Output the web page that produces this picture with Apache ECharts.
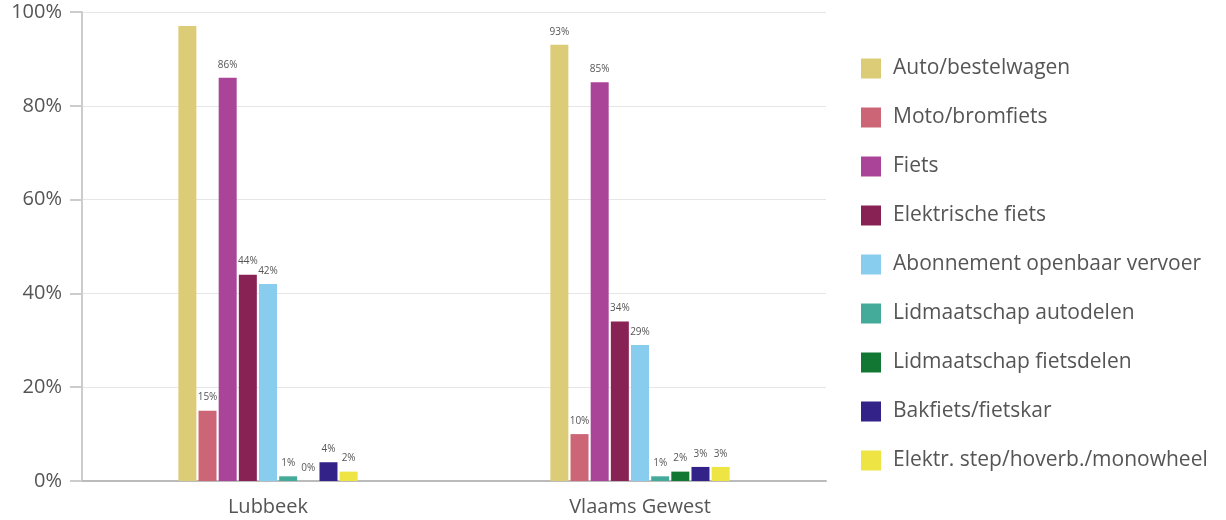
<!DOCTYPE html>
<html><head><meta charset="utf-8">
<script src="https://cdn.jsdelivr.net/npm/echarts@6/dist/echarts.min.js"></script>
<style>html,body{margin:0;padding:0;background:#fff}#c{width:1226px;height:520px}</style>
</head><body><div id="c"></div>
<script>
const categories = ['Lubbeek', 'Vlaams Gewest'];
const seriesNames = ['Auto/bestelwagen','Moto/bromfiets','Fiets','Elektrische fiets','Abonnement openbaar vervoer','Lidmaatschap autodelen','Lidmaatschap fietsdelen','Bakfiets/fietskar','Elektr. step/hoverb./monowheel'];
const lubbeek = [97, 15, 86, 44, 42, 1, 0, 4, 2];
const vlaams = [93, 10, 85, 34, 29, 1, 2, 3, 3];
const colors = ['#ddcc77','#cc6677','#aa4499','#882255','#88ccee','#44aa99','#117733','#332288','#eee444'];
const yTicks = [0, 20, 40, 60, 80, 100];

const FONT = 'Open Sans';
const series = seriesNames.map((n, i) => ({
  name: n, type: 'bar', barWidth: 18, barGap: '12%',
  itemStyle: { color: colors[i] },
  data: [lubbeek[i], vlaams[i]].map((v, j) => (v > 95 ? { value: v, label: { show: false } } : v)),
  label: { show: true, position: 'top', distance: 8, formatter: '{c}%', fontSize: 10, color: '#555', fontFamily: FONT }
}));

const chart = echarts.init(document.getElementById('c'));
chart.setOption({
  animation: false,
  color: colors,
  grid: { left: 82, right: 400, top: 12, bottom: 39, containLabel: false },
  legend: {
    orient: 'vertical', left: 861, top: 58, padding: 0, itemWidth: 20, itemHeight: 20, itemGap: 28,
    icon: 'rect', textStyle: { fontSize: 21, color: '#555', fontFamily: FONT, padding: [0, 0, 0, 7] },
    data: seriesNames
  },
  xAxis: {
    type: 'category', data: categories,
    axisLine: { lineStyle: { color: '#bbb', width: 2 } },
    axisTick: { show: false },
    axisLabel: { fontSize: 20, color: '#555', fontFamily: FONT, margin: 16 }
  },
  yAxis: {
    type: 'value', min: 0, max: 100, interval: 20,
    axisLine: { show: true, lineStyle: { color: '#ccc', width: 2 } },
    axisTick: { show: true, length: 12, lineStyle: { color: '#ccc', width: 2 } },
    splitLine: { lineStyle: { color: '#e6e6e6' } },
    axisLabel: { fontSize: 20, color: '#555', fontFamily: FONT, margin: 20, formatter: v => yTicks.includes(v) ? v + '%' : '' }
  },
  series
});
</script></body></html>
